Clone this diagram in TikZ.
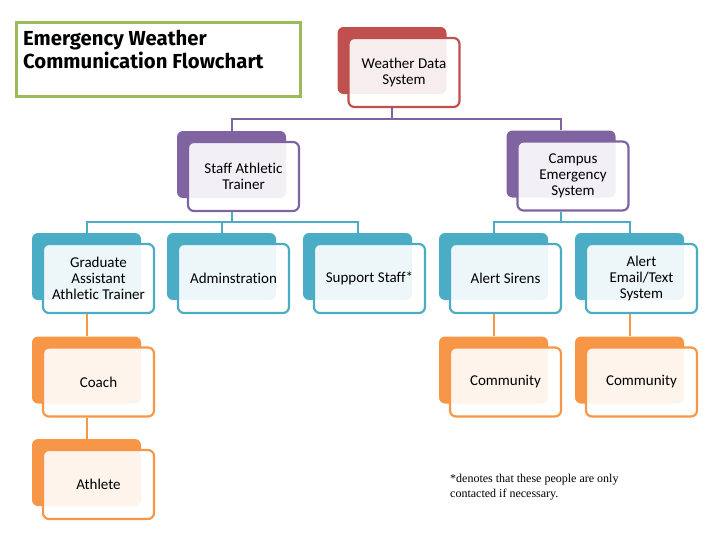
\documentclass[tikz,border=0pt]{standalone}
\usepackage{fontspec}
\usetikzlibrary{calc}
\newfontfamily\boxfont[Ligatures=CommonOff]{Carlito}
\newfontfamily\headfont{Fira Sans}
\newfontfamily\notefont{Liberation Serif}
\definecolor{wred}{HTML}{C0504D}
\definecolor{wpurple}{HTML}{8064A2}
\definecolor{wblue}{HTML}{4BACC6}
\definecolor{worange}{HTML}{F79646}
\definecolor{wgreen}{HTML}{9BBB59}
\begin{document}
\begin{tikzpicture}[x=1pt, y=-1pt,
  back/.style={rectangle, rounded corners=6pt, fill=#1, minimum width=109pt, minimum height=67pt, inner sep=0pt},
  front/.style={rectangle, rounded corners=6pt, draw=#1, line width=2.2pt, fill=white, fill opacity=0.9, text opacity=1,
    minimum width=111pt, minimum height=69pt, inner sep=0pt, align=center, font=\boxfont\fontsize{15}{16}\selectfont},
  wire/.style={draw=#1, line width=2pt}]
\useasboundingbox (0,0) rectangle (728,546);

\node[draw=wgreen, line width=3pt, minimum width=284pt, minimum height=74pt, anchor=north west] at (15,21)(titlebox) {};
\node[anchor=base west, align=left, inner sep=0pt, font=\headfont\bfseries\fontsize{20.3}{23}\selectfont] at (23,68)(title) {Emergency Weather\\Communication Flowchart};

\node[back=wred] at (392,60.5)(wdsB) {};
\node[back=wpurple] at (231.5,164.5)(satB) {};
\node[back=wpurple] at (561,164)(cesB) {};
\node[back=wblue] at (86.5,266.5)(gaatB) {};
\node[back=wblue] at (221.5,266.5)(admB) {};
\node[back=wblue] at (357.5,266.5)(supB) {};
\node[back=wblue] at (493.5,266.5)(sirB) {};
\node[back=wblue] at (629.5,266.5)(emlB) {};
\node[back=worange] at (86.5,370)(coachB) {};
\node[back=worange] at (493.5,370)(com1B) {};
\node[back=worange] at (629.5,370)(com2B) {};
\node[back=worange] at (86.5,472.5)(athB) {};

\node[front=wred] at ($(wdsB)+(12,12)$)(wds) {Weather Data\\System};
\node[front=wpurple] at ($(satB)+(12,12)$)(sat) {Staff Athletic\\Trainer};
\node[front=wpurple] at ($(cesB)+(12,12)$)(ces) {Campus\\Emergency\\System};
\node[front=wblue] at ($(gaatB)+(12,12)$)(gaat) {Graduate\\Assistant\\Athletic Trainer};
\node[front=wblue] at ($(admB)+(12,12)$)(adm) {Adminstration};
\node[front=wblue] at ($(supB)+(12,12)$)(sup) {Support Staff*};
\node[front=wblue] at ($(sirB)+(12,12)$)(sir) {Alert Sirens};
\node[front=wblue] at ($(emlB)+(12,12)$)(eml) {Alert\\Email/Text\\System};
\node[front=worange] at ($(coachB)+(12,12)$)(coach) {Coach};
\node[front=worange] at ($(com1B)+(12,12)$)(com1) {Community};
\node[front=worange] at ($(com2B)+(12,12)$)(com2) {Community};
\node[front=worange] at ($(athB)+(12,12)$)(ath) {Athlete};

\draw[wire=wpurple] (wdsB.south |- wds.south) -- ++(0,11) coordinate (bus1);
\draw[wire=wpurple] (satB.north) |- (bus1) -| (cesB.north);

\draw[wire=wblue] (satB.south |- sat.south) -- ++(0,10) coordinate (bus2);
\draw[wire=wblue] (gaatB.north) |- (bus2) -| (supB.north);
\draw[wire=wblue] (admB.north) -- (admB.north |- bus2);
\draw[wire=wblue] (cesB.south |- ces.south) -- ++(0,10) coordinate (bus3);
\draw[wire=wblue] (sirB.north) |- (bus3) -| (emlB.north);

\draw[wire=worange] (gaatB.south |- gaat.south) -- (coachB.north);
\draw[wire=worange] (coachB.south |- coach.south) -- (athB.north);
\draw[wire=worange] (sirB.south |- sir.south) -- (com1B.north);
\draw[wire=worange] (emlB.south |- eml.south) -- (com2B.north);

\node[anchor=base west, align=left, inner sep=0pt, font=\notefont\fontsize{12}{15}\selectfont] at (450,497)(note) {*denotes that these people are only\\contacted if necessary.};
\end{tikzpicture}
\end{document}
